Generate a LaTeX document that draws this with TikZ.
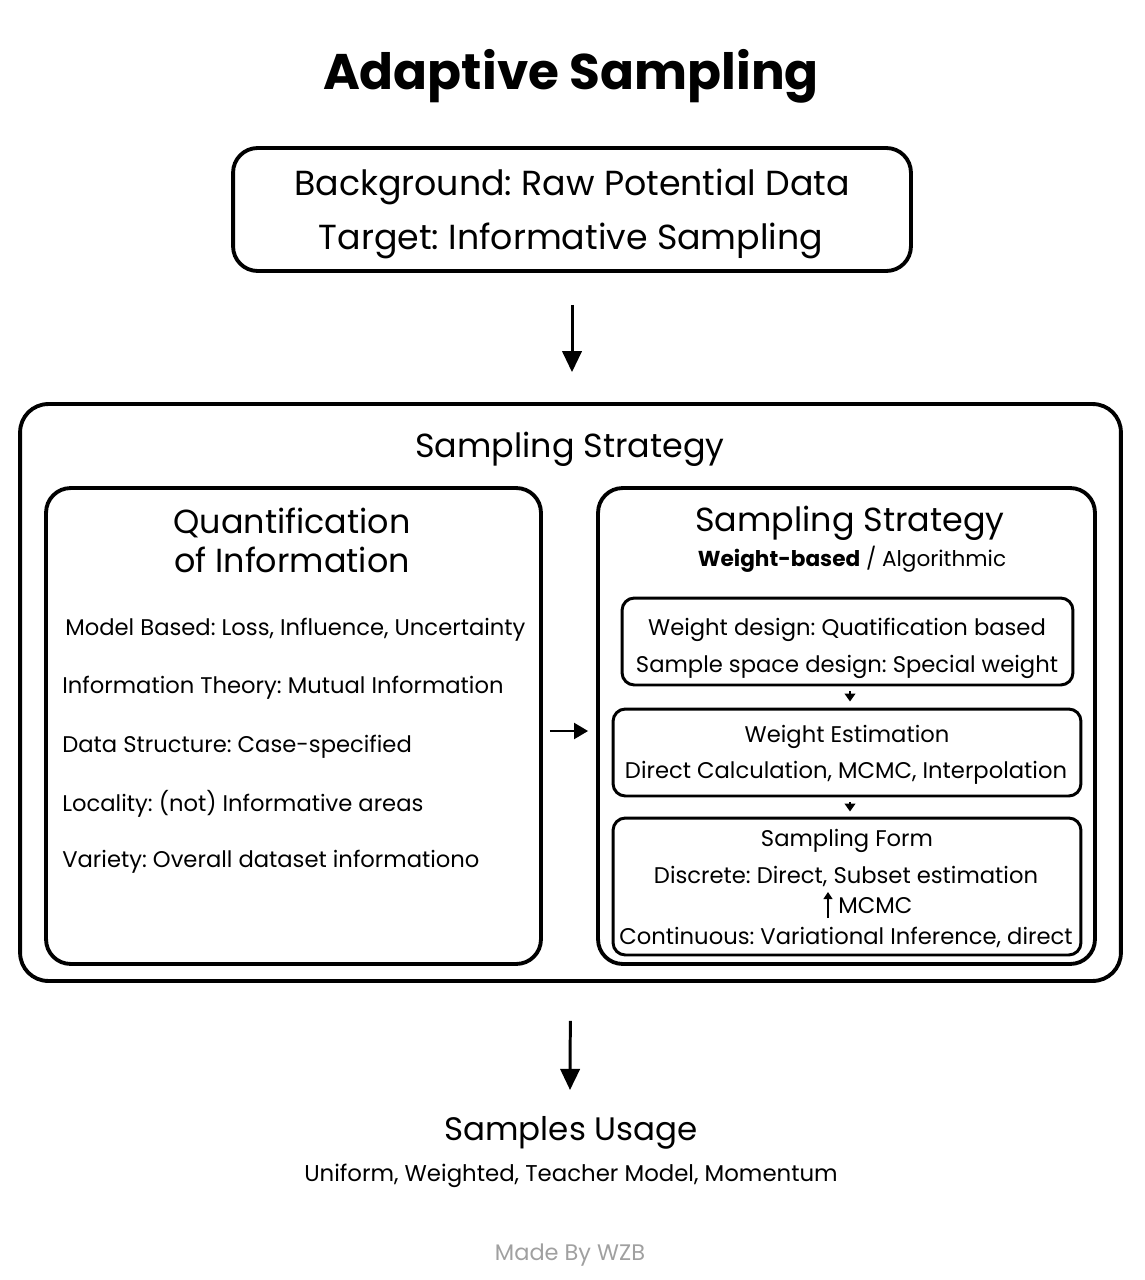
\documentclass[tikz,border=0pt]{standalone}
\usepackage{fontspec}
\setmainfont{Poppins}
\usetikzlibrary{arrows.meta,positioning}
\definecolor{wzbgray}{RGB}{160,160,160}
\frenchspacing

\begin{document}
\begin{tikzpicture}[x=0.02cm, y=-0.02cm,
    mainbox/.style={draw, line width=2.2pt, rounded corners=14pt, inner sep=0pt},
    subbox/.style={draw, line width=1.7pt, rounded corners=7pt, inner sep=0pt},
    txt/.style={inner sep=0pt, font=\fontsize{12.9}{15}\selectfont},
    head/.style={inner sep=0pt, font=\fontsize{19}{23}\selectfont},
    bigarrow/.style={line width=1.7pt, -{Triangle[length=12pt, width=11pt]}},
    midarrow/.style={line width=1.5pt, -{Triangle[length=8pt, width=9pt]}},
    tinyarrow/.style={line width=1.1pt, -{Triangle[length=4.5pt, width=6pt]}}]

\useasboundingbox (0,0) rectangle (1144,1280);

% Title
\node[inner sep=0pt, font=\fontsize{28.5}{34}\selectfont\bfseries] (title) at (571,76) {Adaptive Sampling};

% Background box
\node[mainbox, minimum width=13.56cm, minimum height=2.46cm] (goal) at (572,209.5) {};
\node[txt, font=\fontsize{19.8}{24}\selectfont] (bg) at (572,187) {Background: Raw Potential Data};
\node[txt, font=\fontsize{19.8}{24}\selectfont] (tg) at (571,241) {Target: Informative Sampling};

% Outer strategy box
\node[mainbox, rounded corners=16pt, minimum width=22.02cm, minimum height=11.54cm] (strategy) at (570.5,692.5) {};
\node[head] (strategytitle) at (570,449) {Sampling Strategy};

% Quantification
\node[mainbox, minimum width=9.9cm, minimum height=9.52cm] (quant) at (293.5,726) {};
\node[head] (quanttitle) at (292,523) {Quantification};
\node[head] (quanttitle2) at (292,560) {of Information};
\node[txt, anchor=west] (model) at (65,630) {Model Based: Loss, Influence, Uncertainty};
\node[txt, anchor=west] (info) at (62,688) {Information Theory: Mutual Information};
\node[txt, anchor=west] (struct) at (62,747) {Data Structure: Case-specified};
\node[txt, anchor=west] (local) at (62,804) {Locality: (not) Informative areas};
\node[txt, anchor=west] (variety) at (62,862) {Variety: Overall dataset informationo};

% Method
\node[mainbox, minimum width=9.94cm, minimum height=9.52cm] (method) at (846.5,726) {};
\node[head] (methodtitle) at (850,523) {Sampling Strategy};
\node[txt, font=\fontsize{12.3}{15}\selectfont] (methodsub) at (852,559) {\textbf{Weight-based} / Algorithmic};

\node[subbox, minimum width=9.02cm, minimum height=1.74cm] (design) at (847.5,641.5) {};
\node[txt] (design1) at (847,630) {Weight design: Quatification based};
\node[txt] (design2) at (847,667) {Sample space design: Special weight};

\node[subbox, minimum width=9.36cm, minimum height=1.74cm] (estim) at (847,752.5) {};
\node[txt] (estim1) at (847,737) {Weight Estimation};
\node[txt] (estim2) at (846,773) {Direct Calculation, MCMC, Interpolation};

\node[subbox, minimum width=9.36cm, minimum height=2.74cm] (form) at (847,886.5) {};
\node[txt] (form1) at (847,841) {Sampling Form};
\node[txt] (form2) at (846,876) {Discrete: Direct, Subset estimation};
\node[txt, anchor=west] (mcmc) at (838,906) {MCMC};
\node[txt] (form3) at (846,937) {Continuous: Variational Inference, direct};
\coordinate (up0) at (828,918);
\coordinate (up1) at (828,892);

% Usage
\coordinate (usagein) at (570,1090);
\node[head, font=\fontsize{18.5}{22}\selectfont] (usage) at (571,1133) {Samples Usage};
\node[txt, font=\fontsize{13}{15}\selectfont] (usagelist) at (571,1176) {Uniform, Weighted, Teacher Model, Momentum};
\node[txt, font=\fontsize{12.8}{15}\selectfont, text=wzbgray] (credit) at (570,1255) {Made By WZB};

% Arrows
\draw[bigarrow, shorten <=0.64cm, shorten >=0.6cm] (goal.south) -- (goal.south |- strategy.north);
\draw[bigarrow, shorten <=0.76cm] (strategy.south) -- (usagein);
\draw[midarrow, shorten <=0.14cm, shorten >=0.16cm] (quant.east |- 0,731) -- (method.west |- 0,731);
\draw[tinyarrow, shorten <=0.1cm, shorten >=0.12cm] (design.south -| 850,0) -- (estim.north -| 850,0);
\draw[tinyarrow, shorten <=0.1cm, shorten >=0.1cm] (estim.south -| 850,0) -- (form.north -| 850,0);
\draw[line width=1pt, -{Triangle[length=4pt, width=5pt]}] (up0) -- (up1);
\end{tikzpicture}
\end{document}
